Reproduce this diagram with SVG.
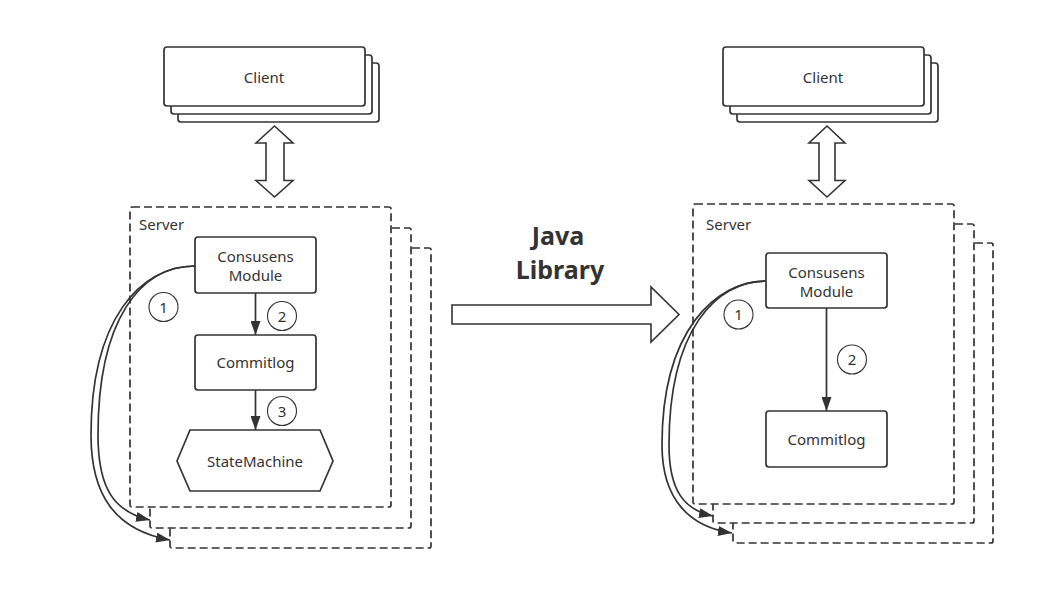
<svg xmlns="http://www.w3.org/2000/svg" width="1055" height="610" viewBox="0 0 1055 610">
<defs>
<style>
.box{fill:#fff;stroke:#333;stroke-width:1.7}
.dash{fill:#fff;stroke:#333;stroke-width:1.7;stroke-dasharray:8 4}
.t{font-family:"Noto Sans","Open Sans","Liberation Sans",sans-serif;font-size:15px;fill:#333;text-anchor:middle}
.lbl{font-family:"Noto Sans","Open Sans","Liberation Sans",sans-serif;font-size:15px;fill:#333}
.num{font-family:"Noto Sans","Open Sans","Liberation Sans",sans-serif;font-size:15px;fill:#333;text-anchor:middle}
.circ{fill:#fff;stroke:#333;stroke-width:1.1}
.big{font-family:"Noto Sans","Open Sans","Liberation Sans",sans-serif;font-size:25px;font-weight:bold;fill:#333;text-anchor:middle}
.conn{fill:none;stroke:#333;stroke-width:1.7}
.fat{fill:#fff;stroke:#333;stroke-width:1.6}
</style>
<marker id="ah" viewBox="0 0 14 10" refX="14" refY="5" markerWidth="14" markerHeight="10" markerUnits="userSpaceOnUse" orient="auto">
<path d="M0,0 L14,5 L0,10 Z" fill="#333"/>
</marker>
</defs>
<rect width="1055" height="610" fill="#fff"/>

<!-- LEFT SIDE -->
<g id="client-left">
<rect class="box" x="178" y="63" width="201" height="59" rx="3"/>
<rect class="box" x="171" y="55" width="201" height="59" rx="3"/>
<rect class="box" x="164" y="47" width="201" height="59" rx="3"/>
<text class="t" x="264" y="82.5">Client</text>
</g>
<g id="dbl-arrow-left">
<polygon class="fat" points="274.5,126 293,143 284,143 284,180.5 293,180.5 274.5,197 256,180.5 266,180.5 266,143 256,143"/>
</g>
<g id="server-left">
<rect class="dash" x="170" y="248" width="261" height="300" rx="2"/>
<rect class="dash" x="150" y="228" width="261" height="300" rx="2"/>
<rect class="dash" x="130" y="207" width="261" height="300" rx="2"/>
<text class="lbl" x="139" y="229.5">Server</text>
</g>
<g id="consensus-left">
<rect class="box" x="195" y="237" width="121" height="56" rx="3"/>
<text class="t" x="255.5" y="261.5">Consusens</text>
<text class="t" x="255.5" y="281">Module</text>
</g>
<g id="commitlog-left">
<rect class="box" x="195" y="335" width="121" height="55" rx="3"/>
<text class="t" x="255.5" y="368">Commitlog</text>
</g>
<g id="statemachine-left">
<polygon class="box" points="177,461 190,430 320,430 333,461 320,491 190,491"/>
<text class="t" x="255" y="466.5">StateMachine</text>
</g>

<!-- RIGHT SIDE -->
<g id="client-right">
<rect class="box" x="737" y="63" width="201" height="59" rx="3"/>
<rect class="box" x="730" y="55" width="201" height="59" rx="3"/>
<rect class="box" x="723" y="47" width="201" height="59" rx="3"/>
<text class="t" x="823" y="82.5">Client</text>
</g>
<g id="dbl-arrow-right">
<polygon class="fat" points="827,126 845,143 835,143 835,180.5 845,180.5 827,197 809,180.5 819,180.5 819,143 809,143"/>
</g>
<g id="server-right">
<rect class="dash" x="733" y="243" width="260" height="300" rx="2"/>
<rect class="dash" x="713" y="224" width="261" height="299" rx="2"/>
<rect class="dash" x="693" y="204" width="261" height="300" rx="2"/>
<text class="lbl" x="706" y="229.5">Server</text>
</g>
<g id="consensus-right">
<rect class="box" x="766" y="253" width="121" height="55" rx="3"/>
<text class="t" x="826.5" y="277.5">Consusens</text>
<text class="t" x="826.5" y="297">Module</text>
</g>
<g id="commitlog-right">
<rect class="box" x="766" y="411" width="121" height="56" rx="3"/>
<text class="t" x="826.5" y="444.5">Commitlog</text>
</g>

<!-- MIDDLE -->
<g id="java-library">
<polygon class="fat" points="452,305 651,305 651,287 679,314.5 651,342 651,324 452,324"/>
<text class="big" x="558" y="245">Java</text>
<text class="big" x="560" y="279">Library</text>
</g>

<!-- CONNECTORS -->
<g id="connectors">
<line class="conn" x1="255.5" y1="293" x2="255.5" y2="335" marker-end="url(#ah)"/>
<line class="conn" x1="255.5" y1="390" x2="255.5" y2="430" marker-end="url(#ah)"/>
<path class="conn" d="M195,266 C140,266 91,320 91,435 C91,495 115,530 170,540" marker-end="url(#ah)"/>
<path class="conn" d="M195,266 C140,266 98,320 98,435 C98,490 115,512 150,520" marker-end="url(#ah)"/>
<line class="conn" x1="826.5" y1="308" x2="826.5" y2="411" marker-end="url(#ah)"/>
<path class="conn" d="M766,281 C716,281 662,330 662,445 C662,500 690,527 732,533" marker-end="url(#ah)"/>
<path class="conn" d="M766,281 C716,281 669,330 669,445 C669,492 685,510 713,516" marker-end="url(#ah)"/>
</g>

<g id="labels">
<circle class="circ" cx="163.5" cy="307" r="14.5"/>
<text class="num" x="163.5" y="312.5">1</text>
<circle class="circ" cx="282" cy="316" r="14.5"/>
<text class="num" x="282" y="321.5">2</text>
<circle class="circ" cx="282" cy="411" r="14.5"/>
<text class="num" x="282" y="416.5">3</text>
<circle class="circ" cx="738.5" cy="314.5" r="14.5"/>
<text class="num" x="738.5" y="320">1</text>
<circle class="circ" cx="852" cy="359.5" r="14.5"/>
<text class="num" x="852" y="365">2</text>
</g>
</svg>
